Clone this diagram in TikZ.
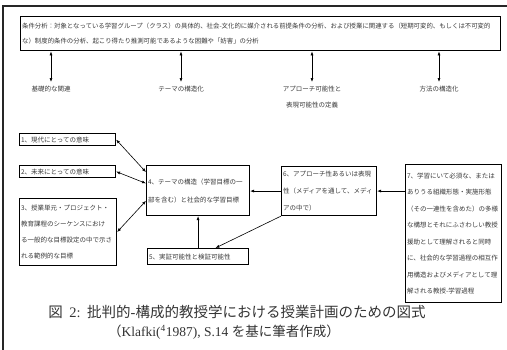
\documentclass[tikz,border=0pt]{standalone}
\usepackage{fontspec}
\setmainfont{Liberation Serif}
\newfontfamily\jp{Noto Sans CJK JP}
\usetikzlibrary{arrows.meta,calc}
\begin{document}
\begin{tikzpicture}[x=1pt,y=-1pt,
  box/.style={draw=black, line width=1.1pt, anchor=north west, inner xsep=1.5pt, inner ysep=0pt, align=left, font=\jp\fontsize{6.5}{16.5}\selectfont, text=black!78},
  lab/.style={font=\jp\fontsize{6.5}{16}\selectfont, text=black!78, align=center, anchor=north, inner ysep=4pt},
  arr/.style={line width=0.6pt, -{Latex[length=4pt,width=3pt]}},
  darr/.style={line width=0.6pt, {Latex[length=4pt,width=3pt]}-{Latex[length=4pt,width=3pt]}},
  captext/.style={text=black!80}]
\useasboundingbox (0,0) rectangle (507,349);
\draw[line width=1.2pt, black!85] (3,6) rectangle (515,360);

\node[box, line width=1.3pt, text width=477pt, minimum height=34pt, font=\jp\fontsize{6.4}{15}\selectfont] (cond) at (20,16)
 {条件分析：対象となっている学習グループ（クラス）の具体的、社会-文化的に媒介される前提条件の分析、および授業に関連する（短期可変的、もしくは不可変的\\な）制度的条件の分析、起こり得たり推測可能であるような困難や「妨害」の分析};

\node[lab] (l1) at (51,82) {基礎的な関連};
\node[lab] (l2) at (181,82) {テーマの構造化};
\node[lab] (l3) at (312,82) {アプローチ可能性と\\表現可能性の定義};
\node[lab] (l4) at (439,82) {方法の構造化};
\foreach \l in {l1,l2,l3,l4}
  \draw[darr] (cond.south -| \l.north) -- (\l.north);

\node[box, text width=93pt, minimum height=12pt] (b1) at (19,133) {1、現代にとっての意味};
\node[box, text width=93pt, minimum height=12pt] (b2) at (19,165) {2、未来にとっての意味};
\node[box, text width=94pt, minimum height=67pt, font=\jp\fontsize{6.5}{16}\selectfont] (b3) at (19,198)
 {3、授業単元・プロジェクト・\\教育課程のシーケンスにおけ\\る一般的な目標設定の中で示さ\\れる範例的な目標};
\node[box, text width=100pt, minimum height=50pt, font=\jp\fontsize{6.5}{18}\selectfont] (b4) at (146,165)
 {4、テーマの構造（学習目標の一\\部を含む）と社会的な学習目標};
\node[box, text width=98pt, minimum height=16pt] (b5) at (147,248) {5、実証可能性と検証可能性};
\node[box, text width=92pt, minimum height=49pt, font=\jp\fontsize{6.5}{17}\selectfont] (b6) at (281,166)
 {6、アプローチ性あるいは表現\\性（メディアを通して、メディ\\アの中で）};
\node[box, text width=93pt, minimum height=138pt] (b7) at (405,164)
 {7、学習にいて必須な、または\\ありうる組織形態・実施形態\\（その一連性を含めた）の多様\\な構想とそれにふさわしい教授\\援助として理解されると同時\\に、社会的な学習過程の相互作\\用構造およびメディアとして理\\解される教授-学習過程};

\draw[darr] (b1.east) -- ($(b4.north west)!0.14!(b4.south west)$);
\draw[darr] (b2.east) -- ($(b4.north west)!0.36!(b4.south west)$);
\draw[darr] (b3.east) -- ($(b4.north west)!0.7!(b4.south west)$);
\draw[arr] (b6.west) -- (b4.east |- b6.west);
\draw[arr] (b7.west |- b6.east) -- (b6.east);
\draw[arr] (b6.south west) -- ($(b5.north west)!0.67!(b5.north east)$);
\draw[arr] (b5.north) -- (b4.south);

\node[captext, font=\fontsize{14.5}{17}\selectfont] (cap1) at (237,312) {{\jp 図}\hspace{0.45em}2:\hspace{0.45em}{\jp 批判的}-{\jp 構成的教授学における授業計画のための図式}};
\node[captext, font=\fontsize{13.5}{17}\selectfont] (cap2) at (224,332) {{\jp （}Klafki(\textsuperscript{4}1987), S.14 {\jp を基に筆者作成）}};
\end{tikzpicture}
\end{document}
